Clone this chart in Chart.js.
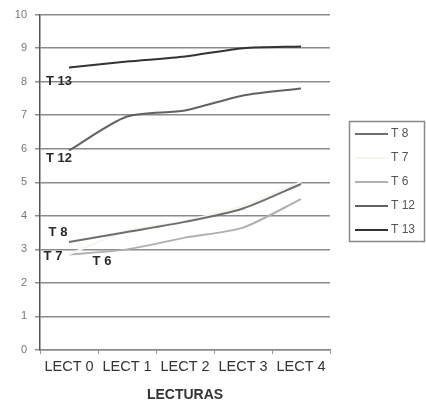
<!DOCTYPE html>
<html>
<head>
<meta charset="utf-8">
<script src="https://cdn.jsdelivr.net/npm/chart.js@4/dist/chart.umd.min.js"></script>
<style>
  html, body { margin: 0; padding: 0; background: #fff; }
  #wrap { width: 426px; height: 408px; }
</style>
</head>
<body>
<div id="wrap"><canvas id="c" width="426" height="408"></canvas></div>
<script>
// Readings (x axis)
const categories = ['LECT 0', 'LECT 1', 'LECT 2', 'LECT 3', 'LECT 4'];
// Series values per reading
const t8  = [3.22, 3.52, 3.82, 4.22, 4.95];
const t7  = [2.85, 3.55, 3.85, 4.30, 5.00];
const t6  = [2.85, 3.00, 3.35, 3.65, 4.50];
const t12 = [5.95, 6.96, 7.14, 7.59, 7.80];
const t13 = [8.42, 8.60, 8.75, 9.00, 9.05];
const seriesNames = ['T 8', 'T 7', 'T 6', 'T 12', 'T 13'];
const yTicks = [0, 1, 2, 3, 4, 5, 6, 7, 8, 9, 10];
const axisTitle = 'LECTURAS';

const colors = ['#6e6e6e', '#f6f5ee', '#b0b0b0', '#626262', '#333333'];
const seriesData = [t8, t7, t6, t12, t13];

// In-plot tags placed next to the first point of each series: [dx, dy]
const tagOffsets = [[-11, -10], [-16, 2], [33, 7], [-10, 8], [-10, 14]];

const FONT = '"Liberation Sans", Arial, sans-serif';

const tagPlugin = {
  id: 'seriesTags',
  afterDatasetsDraw(chart) {
    const ctx = chart.ctx;
    ctx.save();
    ctx.font = 'bold 13px ' + FONT;
    ctx.fillStyle = '#2a2a2a';
    ctx.textAlign = 'center';
    ctx.textBaseline = 'middle';
    chart.data.datasets.forEach((ds, i) => {
      const p = chart.getDatasetMeta(i).data[0];
      ctx.fillText(ds.label, p.x + tagOffsets[i][0], p.y + tagOffsets[i][1]);
    });
    ctx.restore();
  }
};

// Boxed legend on the right
const boxLegend = {
  id: 'boxLegend',
  afterDraw(chart) {
    const ctx = chart.ctx;
    const left = 349, top = 121, right = 425, bottom = 242;
    ctx.save();
    ctx.strokeStyle = '#8a8a8a';
    ctx.lineWidth = 1.5;
    ctx.strokeRect(left + 0.5, top + 0.5, right - left - 1, bottom - top - 1);
    ctx.font = '12px ' + FONT;
    ctx.textBaseline = 'middle';
    ctx.textAlign = 'left';
    chart.data.datasets.forEach((ds, i) => {
      const y = 134 + i * 24;
      ctx.strokeStyle = ds.borderColor;
      ctx.lineWidth = 2;
      ctx.beginPath();
      ctx.moveTo(355, y);
      ctx.lineTo(388, y);
      ctx.stroke();
      ctx.fillStyle = '#555';
      ctx.fillText(ds.label, 391, y);
    });
    ctx.restore();
  }
};

new Chart(document.getElementById('c'), {
  type: 'line',
  data: {
    labels: categories,
    datasets: seriesNames.map((name, i) => ({
      label: name,
      data: seriesData[i],
      borderColor: colors[i],
      borderWidth: 2,
      pointRadius: 0,
      tension: 0.25,
      fill: false
    }))
  },
  options: {
    responsive: false,
    animation: false,
    layout: { padding: { top: 14, right: 96, left: 0, bottom: 0 } },
    plugins: {
      legend: { display: false },
      tooltip: { enabled: false }
    },
    scales: {
      x: {
        offset: true,
        grid: {
          display: true,
          drawOnChartArea: false,
          drawTicks: true,
          tickLength: 4,
          color: '#999',
          offset: true
        },
        border: { display: true, color: '#8a8a8a', width: 1.5 },
        ticks: {
          color: '#333',
          font: { family: FONT, size: 14.5 },
          padding: 4,
          maxRotation: 0,
          autoSkip: false
        },
        title: {
          display: true,
          text: axisTitle,
          color: '#333',
          font: { family: FONT, size: 14, weight: 'bold' },
          padding: { top: 8, bottom: 4 }
        },
        afterFit(scale) { scale.height = 58; }
      },
      y: {
        min: 0,
        max: 10,
        afterBuildTicks(scale) { scale.ticks = yTicks.map(v => ({ value: v })); },
        grid: {
          color: '#8c8c8c',
          lineWidth: 1.5,
          drawTicks: true,
          tickLength: 5
        },
        border: { display: true, color: '#555', width: 1.5 },
        ticks: {
          color: '#777',
          font: { family: FONT, size: 11 },
          padding: 8
        },
        afterFit(scale) { scale.width = 40; }
      }
    }
  },
  plugins: [tagPlugin, boxLegend]
});
</script>
</body>
</html>
